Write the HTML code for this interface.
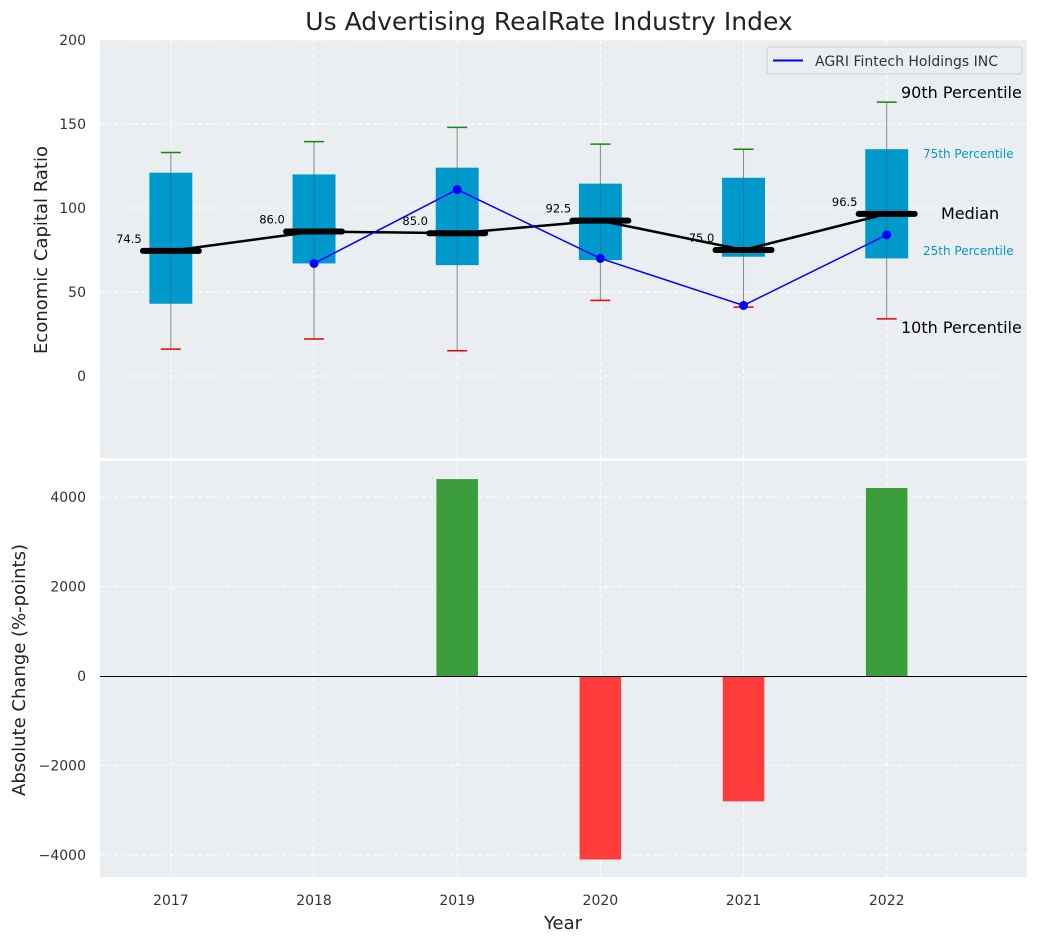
<!DOCTYPE html>
<html><head><meta charset="utf-8"><style>
body{margin:0;background:#fff;font-family:"Liberation Sans","DejaVu Sans",sans-serif;}
svg text{font-family:"DejaVu Sans","Liberation Sans",sans-serif;}
</style></head><body>
<svg id="chart" width="1039" height="942" xmlns="http://www.w3.org/2000/svg"></svg>
<script>
const years=[2017,2018,2019,2020,2021,2022];
const p10=[16,22,15,45,41,34];
const q1=[43,67,66,69,71,70];
const med=[74.5,86,85,92.5,75,96.5];
const q3=[121,120,124,114.5,118,135];
const p90=[133,139.5,148,138,135,163];
const compYears=[2018,2019,2020,2021,2022];
const compVals=[67,111,70,42,84];
const changes=[0,0,4400,-4100,-2800,4200];
const topTicks=[0,50,100,150,200];
const botTicks=[-4000,-2000,0,2000,4000];

const svg=document.getElementById('chart');
const NS='http://www.w3.org/2000/svg';
function mk(tag,attrs,name,txt){const e=document.createElementNS(NS,tag);for(const k in attrs)e.setAttribute(k,attrs[k]);


if(txt!==undefined)e.textContent=txt;svg.appendChild(e);return e;}
const L=100,R=1027;
const x=v=>L+(v-2016.505)/(2022.98-2016.505)*(R-L);
const T0=40,T1=458,B0=461,B1=877;
const yT=v=>376-v*1.68;
const yB=v=>676-v*0.04475;
mk('rect',{x:L,y:T0,width:R-L,height:T1-T0,fill:'#eaeef0'},'top-plot-area');
mk('rect',{x:L,y:B0,width:R-L,height:B1-B0,fill:'#eaeef0'},'bottom-plot-area');
years.forEach(yr=>{mk('line',{x1:x(yr),x2:x(yr),y1:T0,y2:T1,stroke:'#fff','stroke-dasharray':'4,3'},'top-x-grid');
mk('line',{x1:x(yr),x2:x(yr),y1:B0,y2:B1,stroke:'#fff','stroke-dasharray':'4,3'},'bottom-x-grid');
mk('text',{x:x(yr),y:905,'text-anchor':'middle','font-size':14,fill:'#333'},'x-tick-label',yr);});
topTicks.forEach(t=>{mk('line',{x1:L,x2:R,y1:yT(t),y2:yT(t),stroke:'#fff','stroke-dasharray':'4,3'},'top-y-grid');
mk('text',{x:86,y:yT(t)+5,'text-anchor':'end','font-size':14,fill:'#333'},'top-y-tick-label',t);});
botTicks.forEach(t=>{mk('line',{x1:L,x2:R,y1:yB(t),y2:yB(t),stroke:'#fff','stroke-dasharray':'4,3'},'bottom-y-grid');
mk('text',{x:86,y:yB(t)+5,'text-anchor':'end','font-size':14,fill:'#333'},'bottom-y-tick-label',String(t).replace('-','\u2212'));});
const bw=0.3*(x(2018)-x(2017));
years.forEach((yr,i)=>{const cx=x(yr);
mk('line',{x1:cx,x2:cx,y1:yT(p90[i]),y2:yT(p10[i]),stroke:'#888','stroke-width':1},'whisker');
mk('rect',{x:cx-bw/2,y:yT(q3[i]),width:bw,height:yT(q1[i])-yT(q3[i]),fill:'#0099cc'},'iqr-box-'+yr);
mk('line',{x1:cx,x2:cx,y1:yT(q3[i]),y2:yT(q1[i]),stroke:'#555','stroke-width':0.8,opacity:0.6},'box-center');
mk('line',{x1:cx-10,x2:cx+10,y1:yT(p90[i]),y2:yT(p90[i]),stroke:'#118811','stroke-width':1.5},'p90-cap');
mk('line',{x1:cx-10,x2:cx+10,y1:yT(p10[i]),y2:yT(p10[i]),stroke:'#e00','stroke-width':1.5},'p10-cap');
});
mk('polyline',{points:years.map((yr,i)=>x(yr)+','+yT(med[i])).join(' '),fill:'none',stroke:'#000','stroke-width':2.5},'median-line');
years.forEach((yr,i)=>{const cx=x(yr);
mk('line',{x1:cx-28,x2:cx+28,y1:yT(med[i]),y2:yT(med[i]),stroke:'#000','stroke-width':6,'stroke-linecap':'round'},'median-marker');
mk('text',{x:cx-42,y:yT(med[i])-8,'text-anchor':'middle','font-size':11.5,fill:'#000'},'median-value-label',med[i].toFixed(1));});
mk('polyline',{points:compYears.map((yr,i)=>x(yr)+','+yT(compVals[i])).join(' '),fill:'none',stroke:'#0000ff','stroke-width':1.5},'company-line');
compYears.forEach((yr,i)=>mk('circle',{cx:x(yr),cy:yT(compVals[i]),r:4.5,fill:'#0000ff'},'company-point'));
mk('text',{x:901,y:98,'font-size':16,fill:'#000'},'p90-annotation','90th Percentile');
mk('text',{x:923,y:158,'font-size':12,fill:'#0099cc'},'q3-annotation','75th Percentile');
mk('text',{x:941,y:219,'font-size':16,fill:'#000'},'median-annotation','Median');
mk('text',{x:923,y:255,'font-size':12,fill:'#0099cc'},'q1-annotation','25th Percentile');
mk('text',{x:901,y:333,'font-size':16,fill:'#000'},'p10-annotation','10th Percentile');
mk('rect',{x:767,y:47,width:255,height:27,fill:'#eaeef0',stroke:'#ccc',rx:3},'legend');
mk('line',{x1:773,x2:803,y1:60.5,y2:60.5,stroke:'#0000ff','stroke-width':2},'legend-line');
mk('text',{x:815,y:66,'font-size':14,fill:'#333'},'legend-label','AGRI Fintech Holdings INC');
const barw=0.29*(x(2018)-x(2017));
years.forEach((yr,i)=>{if(!changes[i])return;const v=changes[i];
mk('rect',{x:x(yr)-barw/2,y:Math.min(yB(v),yB(0)),width:barw,height:Math.abs(yB(v)-yB(0)),fill:v>0?'#3a9c3a':'#ff3b3b'},'change-bar-'+yr);});
mk('line',{x1:L,x2:R,y1:yB(0)+0.5,y2:yB(0)+0.5,stroke:'#000','stroke-width':1},'zero-line');
mk('text',{x:549,y:30,'text-anchor':'middle','font-size':25,fill:'#222'},'chart-title','Us Advertising RealRate Industry Index');
mk('text',{x:563,y:929,'text-anchor':'middle','font-size':18,fill:'#222'},'x-axis-title','Year');
mk('text',{x:47,y:250,'text-anchor':'middle','font-size':18,fill:'#222',transform:'rotate(-90 47 250)'},'top-y-axis-title','Economic Capital Ratio');
mk('text',{x:25,y:670,'text-anchor':'middle','font-size':18,fill:'#222',transform:'rotate(-90 25 670)'},'bottom-y-axis-title','Absolute Change (%-points)');
</script>
</body></html>
